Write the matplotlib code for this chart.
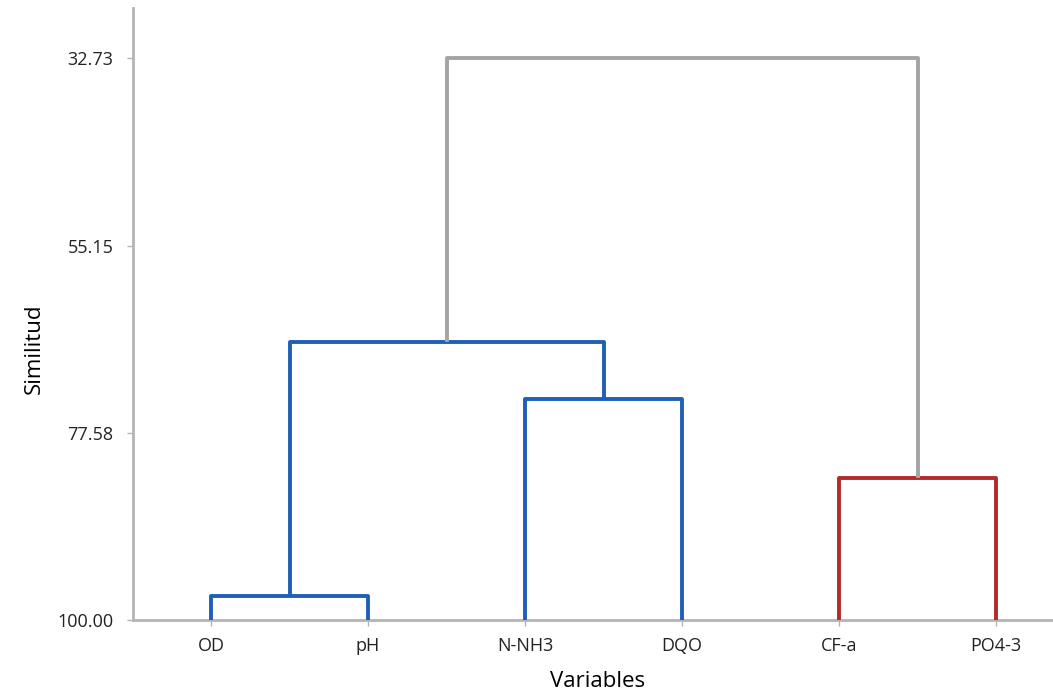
"""
Dendrogram of water quality variables (similarity).
"""

import matplotlib.pyplot as plt

plt.rcParams['font.family'] = ['Open Sans', 'DejaVu Sans']

# Leaves in drawing order
LEAVES = ["OD", "pH", "N-NH3", "DQO", "CF-a", "PO4-3"]
YTICKS = [32.73, 55.15, 77.58, 100.00]

# Merges: (new cluster, left member, right member, similarity level, colour)
# members are leaf indices (0-based) or names of earlier clusters
MERGES = [
    ("c1", 0, 1, 97.1, "#1f5fb8"),
    ("c2", 2, 3, 73.5, "#1f5fb8"),
    ("c3", 4, 5, 83.0, "#b22a2a"),
    ("c4", "c1", "c2", 66.7, "#1f5fb8"),
    ("c5", "c4", "c3", 32.73, "#a4a4a4"),
]

fig = plt.figure(figsize=(10.53, 6.97), dpi=100)
ax = fig.add_axes([133 / 1053, 1 - 620 / 697, 1 - 133 / 1053, (620 - 8) / 697])

pos = {}   # cluster -> (x, height)
for i in range(len(LEAVES)):
    pos[i] = (i + 1, 100.0)

for name, a, b, h, col in MERGES:
    xa, ha = pos[a]
    xb, hb = pos[b]
    ax.plot([xa, xa, xb, xb], [ha, h, h, hb], color=col, linewidth=2.8,
            solid_joinstyle="round", solid_capstyle="butt", zorder=3)
    pos[name] = ((xa + xb) / 2, h)

ax.set_xlim(0.503, 6.363)
ax.set_ylim(100, 26.7)
ax.set_yticks(YTICKS)
ax.set_yticklabels([f"{v:.2f}" for v in YTICKS], fontsize=13, color="#222222")
ax.set_xticks(range(1, len(LEAVES) + 1))
ax.set_xticklabels(LEAVES, fontsize=13, color="#222222")

for s in ["top", "right"]:
    ax.spines[s].set_visible(False)
for s in ["left", "bottom"]:
    ax.spines[s].set_color("#b4b4b4")
    ax.spines[s].set_linewidth(2)
ax.tick_params(axis="both", color="#b4b4b4", length=4, width=1)
ax.tick_params(axis="x", pad=8)
ax.tick_params(axis="y", pad=10)

ax.set_ylabel("Similitud", fontsize=16)
ax.set_xlabel("Variables", fontsize=16)
ax.yaxis.set_label_coords(-0.096, 0.443)
ax.xaxis.set_label_coords(0.505, -0.083)

plt.savefig("out.png", dpi=100)
